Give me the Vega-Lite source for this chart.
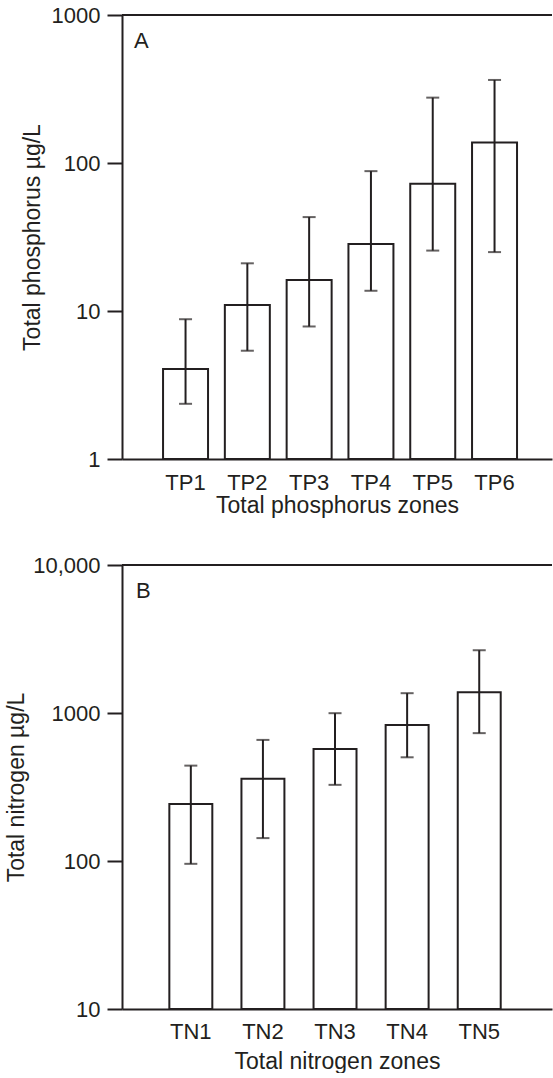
{
  "$schema": "https://vega.github.io/schema/vega-lite/v6.json",
  "padding": {"top": 4, "left": 5, "right": 0, "bottom": 0},
  "config": {
    "font": "Liberation Sans",
    "view": {"stroke": null},
    "axis": {
      "grid": false,
      "domainColor": "#231f20",
      "domainWidth": 2,
      "tickColor": "#231f20",
      "tickWidth": 2,
      "labelColor": "#231f20",
      "titleColor": "#231f20",
      "labelFont": "Liberation Sans",
      "titleFont": "Liberation Sans",
      "labelFontSize": 22,
      "titleFontSize": 23,
      "titleFontWeight": "normal"
    },
    "title": {"font": "Liberation Sans", "fontSize": 22, "fontWeight": "normal", "color": "#231f20"}
  },
  "spacing": 37,
  "vconcat": [
    {
      "width": 430,
      "height": 444,
      "title": {"text": "A", "anchor": "start", "frame": "group", "orient": "top", "offset": 0, "dx": 12, "dy": 49},
      "layer": [
        {
          "data": {"name": "tp", "values": [
            {"zone": "TP1", "mean": 4.05, "lo": 2.36, "hi": 8.8},
            {"zone": "TP2", "mean": 10.96, "lo": 5.39, "hi": 21.0},
            {"zone": "TP3", "mean": 16.2, "lo": 7.86, "hi": 43.1},
            {"zone": "TP4", "mean": 28.4, "lo": 13.7, "hi": 88.1},
            {"zone": "TP5", "mean": 72.3, "lo": 25.6, "hi": 276.5},
            {"zone": "TP6", "mean": 137.3, "lo": 25.0, "hi": 364}
          ]},
          "encoding": {
            "x": {"field": "zone", "type": "nominal", "sort": null,
                  "scale": {"type": "band", "paddingInner": 0.272, "paddingOuter": 0.615, "align": 0.54},
                  "axis": {"title": "Total phosphorus zones", "labelAngle": 0, "ticks": false, "labelPadding": 13, "titlePadding": 1}}
          },
          "layer": [
            {
              "mark": {"type": "bar", "fill": "white", "stroke": "#231f20", "strokeWidth": 2},
              "encoding": {
                "y": {"field": "mean", "type": "quantitative",
                      "scale": {"type": "log", "domain": [1, 1000], "nice": false},
                      "axis": {"title": "Total phosphorus µg/L", "values": [1, 10, 100, 1000], "format": "d", "tickSize": 15, "labelPadding": 7, "titlePadding": 7}},
                "y2": {"datum": 1}
              }
            },
            {
              "mark": {"type": "rule", "color": "#231f20", "strokeWidth": 2},
              "encoding": {"y": {"field": "lo", "type": "quantitative"}, "y2": {"field": "hi"}}
            },
            {
              "mark": {"type": "tick", "color": "#231f20", "thickness": 2, "size": 13},
              "encoding": {"y": {"field": "lo", "type": "quantitative"}}
            },
            {
              "mark": {"type": "tick", "color": "#231f20", "thickness": 2, "size": 13},
              "encoding": {"y": {"field": "hi", "type": "quantitative"}}
            }
          ]
        },
        {
          "data": {"values": [{"top": 1000}]},
          "mark": {"type": "rule", "color": "#231f20", "strokeWidth": 2},
          "encoding": {"y": {"field": "top", "type": "quantitative"}}
        }
      ]
    },
    {
      "width": 430,
      "height": 444,
      "title": {"text": "B", "anchor": "start", "frame": "group", "orient": "top", "offset": 0, "dx": 14, "dy": 49},
      "layer": [
        {
          "data": {"name": "tn", "values": [
            {"zone": "TN1", "mean": 243, "lo": 95.7, "hi": 441},
            {"zone": "TN2", "mean": 359, "lo": 142.8, "hi": 658},
            {"zone": "TN3", "mean": 572, "lo": 327, "hi": 997},
            {"zone": "TN4", "mean": 831, "lo": 502, "hi": 1361},
            {"zone": "TN5", "mean": 1381, "lo": 731, "hi": 2655}
          ]},
          "encoding": {
            "x": {"field": "zone", "type": "nominal", "sort": null,
                  "scale": {"type": "band", "paddingInner": 0.404, "paddingOuter": 0.684, "align": 0.48},
                  "axis": {"title": "Total nitrogen zones", "labelAngle": 0, "ticks": false, "labelPadding": 12.5, "titlePadding": 7.5}}
          },
          "layer": [
            {
              "mark": {"type": "bar", "fill": "white", "stroke": "#231f20", "strokeWidth": 2},
              "encoding": {
                "y": {"field": "mean", "type": "quantitative",
                      "scale": {"type": "log", "domain": [10, 10000], "nice": false},
                      "axis": {"title": "Total nitrogen µg/L", "values": [10, 100, 1000, 10000], "tickSize": 15, "labelPadding": 7, "titlePadding": 4.5,
                               "labelExpr": "datum.value == 10000 ? '10,000' : format(datum.value, 'd')"}},
                "y2": {"datum": 10}
              }
            },
            {
              "mark": {"type": "rule", "color": "#231f20", "strokeWidth": 2},
              "encoding": {"y": {"field": "lo", "type": "quantitative"}, "y2": {"field": "hi"}}
            },
            {
              "mark": {"type": "tick", "color": "#231f20", "thickness": 2, "size": 13},
              "encoding": {"y": {"field": "lo", "type": "quantitative"}}
            },
            {
              "mark": {"type": "tick", "color": "#231f20", "thickness": 2, "size": 13},
              "encoding": {"y": {"field": "hi", "type": "quantitative"}}
            }
          ]
        },
        {
          "data": {"values": [{"top": 10000}]},
          "mark": {"type": "rule", "color": "#231f20", "strokeWidth": 2},
          "encoding": {"y": {"field": "top", "type": "quantitative"}}
        }
      ]
    }
  ]
}
